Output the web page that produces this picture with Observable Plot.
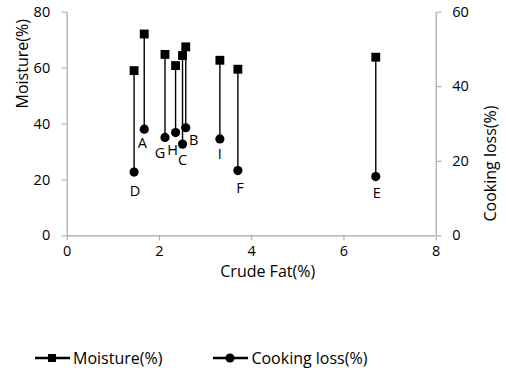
<!DOCTYPE html>
<html>
<head>
<meta charset="utf-8">
<script src="https://cdn.jsdelivr.net/npm/d3@7"></script>
<script src="https://cdn.jsdelivr.net/npm/@observablehq/plot@0.6"></script>
<style>
  html, body { margin: 0; padding: 0; background: #fff; }
  #wrap { position: relative; width: 506px; height: 372px; font-family: "Open Sans", sans-serif; }
  #legend { position: absolute; left: 35px; top: 347px; display: flex; gap: 0; font-size: 16px; color: #000; }
  .item { display: flex; align-items: center; }
  .item svg { margin-right: 3px; }
</style>
</head>
<body>
<div id="wrap"><div id="chart"></div><div id="legend"></div></div>
<script>
// Data
const samples = ["A", "B", "C", "D", "E", "F", "G", "H", "I"];
const crudeFat = [1.67, 2.57, 2.50, 1.45, 6.69, 3.70, 2.12, 2.35, 3.31];
const moisture = [72.2, 67.6, 64.5, 59.1, 63.9, 59.6, 64.9, 60.9, 62.8];
const cookingLoss = [28.6, 29.0, 24.6, 17.1, 15.9, 17.5, 26.4, 27.7, 26.0];
const xTicks = [0, 2, 4, 6, 8];
const yLeftTicks = [0, 20, 40, 60, 80];
const yRightTicks = [0, 20, 40, 60];
const seriesNames = ["Moisture(%)", "Cooking loss(%)"];

const leftMax = 80, rightMax = 60;
const toLeft = v => v * leftMax / rightMax;

const rows = samples.map((s, i) => ({
  sample: s, fat: crudeFat[i], moisture: moisture[i], loss: cookingLoss[i]
}));

// small label nudges (px), as in the reference
const labelDx = {A: -2, B: 8, C: 0, D: 1, E: 1, F: 2, G: -5, H: -3, I: 0};
const labelDy = {A: 14, B: 13, C: 16, D: 19, E: 17, F: 18, G: 16, H: 18, I: 15};

const axisGray = "#a6a6a6";

const chart = Plot.plot({
  width: 506,
  height: 300,
  marginLeft: 66.7,
  marginRight: 70.3,
  marginTop: 11.7,
  marginBottom: 64.7,
  style: { fontFamily: "Open Sans, sans-serif", fontSize: "14.5px", color: "#000", background: "#fff" },
  x: { domain: [0, 8] },
  y: { domain: [0, leftMax] },
  marks: [
    Plot.ruleY([0], { stroke: axisGray, strokeWidth: 1.2 }),
    Plot.ruleX([0], { stroke: axisGray, strokeWidth: 1.2 }),
    Plot.ruleX([8], { stroke: axisGray, strokeWidth: 1.2 }),
    Plot.axisX({ ticks: xTicks, tickSize: 5, tickPadding: 5, stroke: axisGray, label: null, fill: "#000" }),
    Plot.axisY({ anchor: "left", ticks: yLeftTicks, tickSize: 5, tickPadding: 12, stroke: axisGray, label: null, fill: "#000" }),
    Plot.axisY({ anchor: "right", ticks: yRightTicks.map(toLeft), tickFormat: d => Math.round(d * rightMax / leftMax),
      tickSize: 5, tickPadding: 11, stroke: axisGray, label: null, fill: "#000" }),
    // axis titles
    Plot.text(["Crude Fat(%)"], { frameAnchor: "bottom", dx: 16, dy: 41, fontSize: 16, fill: "#000" }),
    Plot.text(["Moisture(%)"], { frameAnchor: "left", rotate: -90, dx: -44.7, dy: -15.5, fontSize: 16, fill: "#000" }),
    Plot.text(["Cooking loss(%)"], { frameAnchor: "right", rotate: -90, dx: 54.3, dy: -18.5, fontSize: 16, fill: "#000" }),
    // connectors
    Plot.link(rows, { x1: "fat", x2: "fat", y1: "moisture", y2: d => toLeft(d.loss), stroke: "#000", strokeWidth: 1.4 }),
    Plot.dot(rows, { x: "fat", y: "moisture", symbol: "square", r: 5, fill: "#000", stroke: null }),
    Plot.dot(rows, { x: "fat", y: d => toLeft(d.loss), symbol: "circle", r: 4.6, fill: "#000", stroke: null }),
    ...rows.map(d => Plot.text([d], { x: "fat", y: r => toLeft(r.loss), text: "sample",
      dx: labelDx[d.sample], dy: labelDy[d.sample], fontSize: 14.5, fill: "#000" }))
  ]
});
document.getElementById("chart").appendChild(chart);

// Legend
const legend = document.getElementById("legend");
const symbols = ["square", "circle"];
seriesNames.forEach((name, i) => {
  const item = document.createElement("div");
  item.className = "item";
  item.style.marginRight = i === 0 ? "51px" : "0";
  const marker = symbols[i] === "square"
    ? '<rect x="13" y="7" width="8" height="8" fill="#000"/>'
    : '<circle cx="17" cy="11" r="4.6" fill="#000"/>';
  item.innerHTML = `<svg width="35" height="22"><line x1="0" x2="35" y1="11" y2="11" stroke="#000" stroke-width="2.5"/>${marker}</svg><span>${name}</span>`;
  legend.appendChild(item);
});
</script>
</body>
</html>
